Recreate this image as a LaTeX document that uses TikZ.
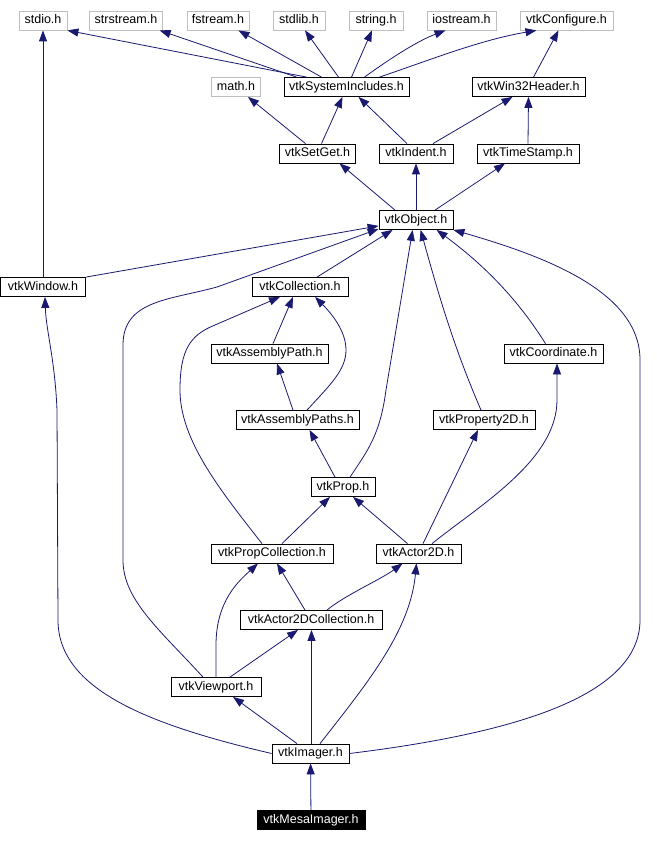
\documentclass[tikz,border=0pt]{standalone}
\usepackage{fontspec}
\setmainfont{Liberation Sans}
\usetikzlibrary{arrows.meta}
\definecolor{edgeblue}{HTML}{191970}
\definecolor{sysgray}{HTML}{BFBFBF}

\begin{document}
\begin{tikzpicture}[x=1pt,y=-1pt,
	hdr/.style={draw=black,line width=0.8pt,minimum height=19pt,inner xsep=5pt,inner ysep=0pt,text height=9pt,text depth=2.5pt,font=\fontsize{12.5}{14}\selectfont},
	syshdr/.style={hdr,draw=sysgray},
	cur/.style={hdr,fill=black,text=white},
	dep/.style={edgeblue,line width=0.8pt,-{Triangle[length=11pt,width=8pt]}}
	]
	\useasboundingbox (0,0) rectangle (656,842);
	\node[syshdr,minimum width=48pt] (stdio) at (43,20.5) {stdio.h};
	\node[syshdr,minimum width=70pt] (strstr) at (126,20.5) {strstream.h};
	\node[syshdr,minimum width=60pt] (fstr) at (218,20.5) {fstream.h};
	\node[syshdr,minimum width=52pt] (stdlib) at (299,20.5) {stdlib.h};
	\node[syshdr,minimum width=54pt] (string) at (376,20.5) {string.h};
	\node[syshdr,minimum width=69pt] (iostr) at (461.5,20.5) {iostream.h};
	\node[syshdr,minimum width=93pt] (config) at (566.5,20.5) {vtkConfigure.h};
	\node[syshdr,minimum width=48pt] (mathh) at (236,87) {math.h};
	\node[hdr,minimum width=125pt] (sysinc) at (346.5,87) {vtkSystemIncludes.h};
	\node[hdr,minimum width=113pt] (win32) at (528.5,87) {vtkWin32Header.h};
	\node[hdr,minimum width=75pt] (setget) at (317.5,153.5) {vtkSetGet.h};
	\node[hdr,minimum width=74pt] (indent) at (416,153.5) {vtkIndent.h};
	\node[hdr,minimum width=102pt] (tstamp) at (528,153.5) {vtkTimeStamp.h};
	\node[hdr,minimum width=74pt] (object) at (416,220) {vtkObject.h};
	\node[hdr,minimum width=85pt] (window) at (43,287) {vtkWindow.h};
	\node[hdr,minimum width=96pt] (coll) at (300,287) {vtkCollection.h};
	\node[hdr,minimum width=117pt] (apath) at (269.5,353.5) {vtkAssemblyPath.h};
	\node[hdr,minimum width=99pt] (coord) at (553.5,353.5) {vtkCoordinate.h};
	\node[hdr,minimum width=123pt] (apaths) at (297.5,420) {vtkAssemblyPaths.h};
	\node[hdr,minimum width=102pt] (prop2d) at (484,420) {vtkProperty2D.h};
	\node[hdr,minimum width=64pt] (prop) at (343,487) {vtkProp.h};
	\node[hdr,minimum width=122pt] (pcoll) at (272,553.5) {vtkPropCollection.h};
	\node[hdr,minimum width=85pt] (actor) at (418.5,553.5) {vtkActor2D.h};
	\node[hdr,minimum width=142pt] (acoll) at (311,620) {vtkActor2DCollection.h};
	\node[hdr,minimum width=90pt] (viewport) at (216,687) {vtkViewport.h};
	\node[hdr,minimum width=77pt] (imager) at (310.5,753.5) {vtkImager.h};
	\node[cur,minimum width=108pt] (mesa) at (311,820) {vtkMesaImager.h};

	\draw[dep] ([xshift=-40pt]sysinc.north) -- (stdio.south east);
	\draw[dep] ([xshift=-50pt]sysinc.north) -- ([xshift=-3pt]strstr.south east);
	\draw[dep] ([xshift=-25pt]sysinc.north) -- ([xshift=-11pt]fstr.south east);
	\draw[dep] ([xshift=-8pt]sysinc.north) -- ([xshift=6pt]stdlib.south);
	\draw[dep] ([xshift=5pt]sysinc.north) -- ([xshift=-4pt]string.south);
	\draw[dep] ([xshift=18pt]sysinc.north) .. controls (395,55) and (420,40) .. ([xshift=-16pt]iostr.south);
	\draw[dep] ([xshift=33pt]sysinc.north) .. controls (430,60) and (480,40) .. ([xshift=-30pt]config.south);
	\draw[dep] ([xshift=5pt]win32.north) -- ([xshift=-8pt]config.south);
	\draw[dep] ([xshift=-12pt]setget.north) -- ([xshift=12pt]mathh.south);
	\draw[dep] ([xshift=4pt]setget.north) -- ([xshift=-4pt]sysinc.south);
	\draw[dep] ([xshift=-9pt]indent.north) -- ([xshift=12pt]sysinc.south);
	\draw[dep] ([xshift=17pt]indent.north) -- ([xshift=-16pt]win32.south);
	\draw[dep] (tstamp.north) -- (win32.south);
	\draw[dep] ([xshift=-21pt]object.north) -- ([xshift=22pt]setget.south);
	\draw[dep] (object) -- (indent);
	\draw[dep] ([xshift=19pt]object.north) -- ([xshift=-23pt]tstamp.south);
	\draw[dep] (window.north) -- (stdio.south);
	\draw[dep] (window.north east) -- ([yshift=4pt]object.south west);
	\draw[dep] ([xshift=-13pt]viewport.north) .. controls (160,630) and (123,600) .. (123,560) -- (123,345) .. controls (123,300) and (170,300) .. (217,287) -- ([yshift=1pt]object.south west);
	\draw[dep] ([xshift=17pt]coll.north) -- ([xshift=14pt]object.south west);
	\draw[dep] ([xshift=7pt]prop.north) .. controls (368,450) and (380,435) .. (386,390) -- ([xshift=34pt]object.south west);
	\draw[dep] ([xshift=-3pt]prop2d.north) .. controls (455,350) and (440,300) .. ([xshift=42pt]object.south west);
	\draw[dep] ([xshift=-8pt]coord.north) .. controls (515,295) and (480,262) .. ([xshift=58pt]object.south west);
	\draw[dep] (imager.east) .. controls (500,735) and (640,700) .. (640,620) -- (640,360) .. controls (640,290) and (540,255) .. (object.south east);
	\draw[dep] ([xshift=3.5pt]apath.north) -- ([xshift=-7pt]coll.south);
	\draw[dep] ([xshift=9.5pt]apaths.north) .. controls (330,385) and (346,370) .. (346,350) .. controls (346,330) and (330,312) .. ([xshift=15pt]coll.south);
	\draw[dep] ([xshift=-4.5pt]apaths.north) -- ([xshift=7.5pt]apath.south);
	\draw[dep] ([xshift=-10pt]pcoll.north) .. controls (220,490) and (180,440) .. (180,390) .. controls (180,350) and (190,335) .. (215,325) -- ([xshift=-20pt]coll.south);
	\draw[dep] ([xshift=-8pt]prop.north) -- ([xshift=12pt]apaths.south);
	\draw[dep] ([xshift=-11pt]actor.north) -- ([xshift=10pt]prop.south);
	\draw[dep] ([xshift=4.5pt]actor.north) -- ([xshift=-6pt]prop2d.south);
	\draw[dep] ([xshift=13.5pt]actor.north) .. controls (480,505) and (557,460) .. (557,400) -- ([xshift=3.5pt]coord.south);
	\draw[dep] ([xshift=10pt]pcoll.north) -- ([xshift=-13pt]prop.south);
	\draw[dep] ([xshift=-6pt]acoll.north) -- ([xshift=5pt]pcoll.south);
	\draw[dep] ([xshift=16pt]acoll.north) .. controls (345,595) and (380,580) .. ([xshift=-16pt]actor.south);
	\draw[dep] (viewport.north) -- (216,645) .. controls (216,600) and (240,580) .. ([xshift=-14pt]pcoll.south);
	\draw[dep] ([xshift=14pt]viewport.north) -- ([xshift=-13pt]acoll.south);
	\draw[dep] ([xshift=-13.5pt]imager.north) -- ([xshift=17pt]viewport.south);
	\draw[dep] ([xshift=1pt]imager.north) -- ([xshift=0.5pt]acoll.south);
	\draw[dep] ([xshift=9.5pt]imager.north) .. controls (370,680) and (410,630) .. ([xshift=-2pt]actor.south);
	\draw[dep] (imager.west) .. controls (150,725) and (58,690) .. (58,620) -- (57,410) .. controls (55,360) and (46,330) .. ([xshift=2pt]window.south);
	\draw[dep] (mesa) -- (imager);
\end{tikzpicture}
\end{document}
